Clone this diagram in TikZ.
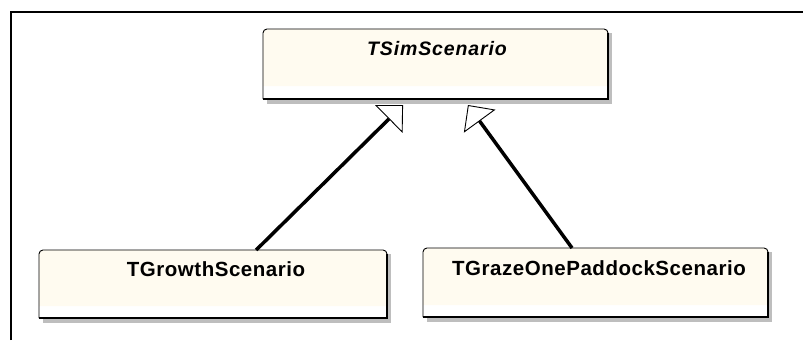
\documentclass[tikz,border=0pt]{standalone}
\usepackage{fontspec}
\setmainfont{Liberation Sans}
\newfontfamily\lblfont[LetterSpace=2.6]{Liberation Sans}
\newfontfamily\absfont[LetterSpace=4.5]{Liberation Sans}
\usetikzlibrary{arrows.meta,calc}
\definecolor{cream}{RGB}{255,251,240}
\definecolor{shadowgray}{RGB}{190,190,190}
\tikzset{
  anchorbox/.style={inner sep=0pt, outer sep=0pt, draw=none},
  clsname/.style={anchor=base, inner sep=0pt, font=\lblfont\bfseries\fontsize{20.5}{22}\selectfont},
  absname/.style={anchor=base, inner sep=0pt, font=\absfont\bfseries\itshape\fontsize{19.5}{21}\selectfont},
  inherit/.style={line width=3.5pt, -{Triangle[open, length=20pt, width=39pt, line width=0.9pt]}},
  boxborder/.style={draw=black, line width=0.9pt},
  boxedge/.style={draw=black, line width=1.8pt},
}
\begin{document}
\begin{tikzpicture}[x=1pt,y=-1pt]
\useasboundingbox (0,0) rectangle (803,340);
% frame
\draw[line width=2pt] (11,340) -- (11,12) -- (803,12);

% ---- TSimScenario box (263..608, 29..99)
\fill[shadowgray] (267,33) rectangle (612,104);
\fill[white] (263,99) [rounded corners=4pt] -- (263,29) -- (608,29) [sharp corners] -- (608,99) -- cycle;
\fill[cream] (263,86) [rounded corners=4pt] -- (263,29) -- (608,29) [sharp corners] -- (608,86) -- cycle;
\draw[boxborder] (263,99) [rounded corners=4pt] -- (263,29) -- (608,29) [sharp corners] -- (608,99);
\draw[boxedge] (608,33) -- (608,99) -- (263,99);
\node[anchorbox, minimum width=345pt, minimum height=70pt] (sim) at (435.5,64) {};
\node[absname] (simt) at (437,55) {TSimScenario};

% ---- TGrowthScenario box (39..387, 250..318)
\fill[shadowgray] (43,254) rectangle (391,323);
\fill[white] (39,318) [rounded corners=4pt] -- (39,250) -- (387,250) [sharp corners] -- (387,318) -- cycle;
\fill[cream] (39,306) [rounded corners=4pt] -- (39,250) -- (387,250) [sharp corners] -- (387,306) -- cycle;
\draw[boxborder] (39,318) [rounded corners=4pt] -- (39,250) -- (387,250) [sharp corners] -- (387,318);
\draw[boxedge] (387,254) -- (387,318) -- (39,318);
\node[anchorbox, minimum width=348pt, minimum height=68pt] (growth) at (213,284) {};
\node[clsname] (growtht) at (216,276) {TGrowthScenario};

% ---- TGrazeOnePaddockScenario box (423..768, 248..317)
\fill[shadowgray] (427,252) rectangle (772,322);
\fill[white] (423,317) [rounded corners=4pt] -- (423,248) -- (768,248) [sharp corners] -- (768,317) -- cycle;
\fill[cream] (423,305) [rounded corners=4pt] -- (423,248) -- (768,248) [sharp corners] -- (768,305) -- cycle;
\draw[boxborder] (423,317) [rounded corners=4pt] -- (423,248) -- (768,248) [sharp corners] -- (768,317);
\draw[boxedge] (768,252) -- (768,317) -- (423,317);
\node[anchorbox, minimum width=345pt, minimum height=69pt] (graze) at (595.5,282.5) {};
\node[clsname] (grazet) at (599,275) {TGrazeOnePaddockScenario};

% ---- generalisations
\draw[inherit] ($(growth.north west)!0.624!(growth.north east)$) -- ($(sim.south west)!0.406!(sim.south east)+(0,6)$);
\draw[inherit] ($(graze.north west)!0.432!(graze.north east)$) -- ($(sim.south west)!0.594!(sim.south east)+(0,6)$);
\end{tikzpicture}
\end{document}
